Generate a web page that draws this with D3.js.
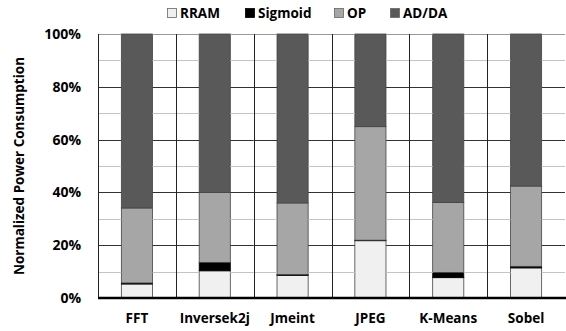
<!DOCTYPE html>
<html><head><meta charset="utf-8">
<script src="https://cdn.jsdelivr.net/npm/d3@7"></script>
<style>body{margin:0;background:#fff}svg{display:block}</style>
</head><body>
<script>
const categories = ["FFT","Inversek2j","Jmeint","JPEG","K-Means","Sobel"];
const seriesNames = ["RRAM","Sigmoid","OP","AD/DA"];
const rram    = [5.3, 10.3, 8.6, 21.7, 7.7, 11.4];
const sigmoid = [0.4, 3.2, 0.3, 0.2, 2.0, 0.6];
const op      = [28.4, 26.5, 27.1, 43.0, 26.5, 30.4];
const adda    = [65.9, 60.0, 64.0, 35.1, 63.8, 57.6];
const yTicks = [0,20,40,60,80,100];
const minorTicks = [10,30,50,70,90];
const colors = ["#f0f0f0","#000000","#a6a6a6","#595959"];

const W=566,H=331, m={l:98,r:1,t:34,b:33};
const FONT="'Open Sans',sans-serif";
const svg=d3.select("body").append("svg").attr("width",W).attr("height",H);
const x=d3.scaleBand().domain(categories).range([m.l,W-m.r]);
const y=d3.scaleLinear().domain([0,100]).range([H-m.b,m.t]);
const bw=x.bandwidth()*0.4;

const data=categories.map((c,i)=>({cat:c,RRAM:rram[i],Sigmoid:sigmoid[i],OP:op[i],"AD/DA":adda[i]}));
const stack=d3.stack().keys(seriesNames)(data);
stack.forEach((s,si)=>{
  svg.append("g").selectAll("rect").data(s).join("rect")
   .attr("x",d=>x(d.data.cat)+(x.bandwidth()-bw)/2)
   .attr("width",bw)
   .attr("y",d=>y(d[1]))
   .attr("height",d=>y(d[0])-y(d[1]))
   .attr("fill",colors[si])
   .attr("stroke",si===1?"#000":"#444").attr("stroke-width",0.8);
});

// gridline segments in the gaps between bars, drawn on top
const gaps=[];
categories.forEach(c=>{
  const x0=x(c), bl=x0+(x.bandwidth()-bw)/2, br=bl+bw, x1=x0+x.bandwidth();
  gaps.push([x0,bl],[br,x1]);
});
function gridPath(vals){
  return vals.map(v=>{const yy=Math.round(y(v))+0.5;return gaps.map(g=>`M${g[0]},${yy}H${g[1]}`).join("");}).join("");
}
svg.append("path").attr("d",gridPath(minorTicks)).attr("fill","none").attr("stroke","#c4c4c4").attr("stroke-width",1.2);
svg.append("path").attr("d",gridPath(yTicks.slice(1,5))).attr("fill","none").attr("stroke","#333333").attr("stroke-width",1.2);
svg.append("path").attr("d",gridPath([100])).attr("fill","none").attr("stroke","#999999").attr("stroke-width",1.2);
svg.selectAll("line.vert").data(categories).join("line").attr("class","vert")
  .attr("x1",d=>Math.round(x(d))+0.5).attr("x2",d=>Math.round(x(d))+0.5)
  .attr("y1",y(0)).attr("y2",y(100)).attr("stroke","#222").attr("stroke-width",1);
svg.append("line").attr("x1",m.l).attr("x2",W).attr("y1",y(0)).attr("y2",y(0)).attr("stroke","#000").attr("stroke-width",2.5);

svg.selectAll("text.ytick").data(yTicks).join("text").attr("class","ytick")
  .attr("x",m.l-17).attr("y",d=>y(d)).attr("dy","0.35em").attr("text-anchor","end")
  .attr("font-family",FONT).attr("font-weight","bold").attr("font-size",14).attr("fill","#000")
  .text(d=>d+"%");

svg.selectAll("text.xtick").data(categories).join("text").attr("class","xtick")
  .attr("x",d=>x(d)+x.bandwidth()/2).attr("y",y(0)+15).attr("dy","0.71em").attr("text-anchor","middle")
  .attr("font-family",FONT).attr("font-weight","bold").attr("font-size",13.5).attr("fill","#000")
  .text(d=>d);

svg.append("text").attr("transform",`translate(19,${(y(0)+y(100))/2}) rotate(-90)`).attr("text-anchor","middle").attr("dy","0.35em")
  .attr("font-family",FONT).attr("font-weight","bold").attr("font-size",13.5).attr("fill","#000")
  .text("Normalized Power Consumption");

const legX=[167,245,334,390];
seriesNames.forEach((n,i)=>{
  const lg=svg.append("g").attr("transform",`translate(${legX[i]},8)`);
  lg.append("rect").attr("x",0.5).attr("y",0.5).attr("width",9).attr("height",9).attr("fill",colors[i]).attr("stroke",i===1?"#000":"#666").attr("stroke-width",0.8);
  lg.append("text").attr("x",13).attr("y",10)
    .attr("font-family",FONT).attr("font-weight","bold").attr("font-size",13.5).attr("fill","#000").text(n);
});
</script>
</body></html>
